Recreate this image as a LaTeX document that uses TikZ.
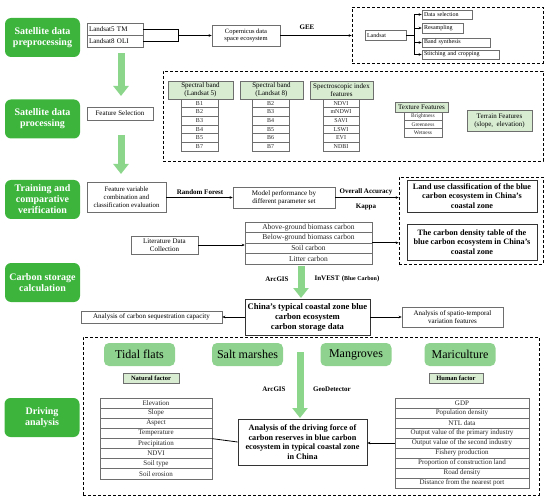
\documentclass[tikz,border=0pt]{standalone}
\usepackage{fontspec}
\setmainfont{Liberation Serif}
\usetikzlibrary{arrows.meta}
\definecolor{dgreen}{RGB}{61,181,61}
\definecolor{lgreen}{RGB}{140,214,140}
\definecolor{hgreen}{RGB}{216,236,210}
\definecolor{cgreen}{RGB}{143,210,143}
\definecolor{bgray}{RGB}{110,110,110}
\begin{document}
\begin{tikzpicture}[x=1pt,y=-1pt,
 lab/.style={rounded corners=6pt, fill=dgreen, text=white, font=\fontsize{10}{11}\selectfont\bfseries, align=center, minimum width=75pt, minimum height=39pt, inner sep=1pt},
 box/.style={draw=bgray, line width=0.6pt, fill=white, font=\fontsize{7}{8}\selectfont, align=center, inner sep=1pt},
 lbox/.style={box, align=left, inner xsep=2pt, font=\fontsize{6}{7}\selectfont},
 cell/.style={draw=bgray, line width=0.5pt, font=\fontsize{6}{7}\selectfont, inner sep=0pt, text=black!85},
 tcell/.style={cell, font=\fontsize{7}{8}\selectfont},
 hdr/.style={draw=bgray, line width=0.6pt, fill=hgreen, font=\fontsize{7}{8}\selectfont, align=center, inner sep=1pt},
 bbox/.style={draw=black!80, line width=0.8pt, fill=white, font=\fontsize{8.2}{9.6}\selectfont\bfseries, align=center, inner sep=1pt},
 cat/.style={rounded corners=5pt, fill=cgreen, font=\fontsize{12}{13}\selectfont, minimum width=71pt, minimum height=23pt, inner sep=1pt},
 dbox/.style={draw=black, line width=0.8pt, dash pattern=on 3pt off 2pt, inner sep=0pt},
 conn/.style={draw=black, line width=0.8pt},
 arr/.style={conn, -{Stealth[length=3pt,width=2.6pt]}},
 garr/.style={draw=lgreen, line width=7pt, -{Triangle[width=15pt,length=10pt]}},
 lbl/.style={font=\fontsize{7}{8}\selectfont\bfseries, inner sep=0pt}
]
\useasboundingbox (0,0) rectangle (550,503);

% left labels
\node[lab] (L1) at (42.5,37.5) {Satellite data\\preprocessing};
\node[lab] (L2) at (42.5,119) {Satellite data\\processing};
\node[lab] (L3) at (42.5,199.5) {Training and\\comparative\\verification};
\node[lab] (L4) at (42.5,282.5) {Carbon storage\\calculation};
\node[lab] (L5) at (42,417.5) {Driving\\analysis};

% row 1
\node[box, text width=52pt, align=left, inner xsep=2pt, minimum height=12pt] (l5) at (115,29) {Landsat5 TM};
\node[box, text width=52pt, align=left, inner xsep=2pt, minimum height=12pt] (l8) at (115,41) {Landsat8 OLI};
\node[box, minimum width=68pt, minimum height=21pt, font=\fontsize{6.5}{7.5}\selectfont] (cop) at (246,35.5) {Copernicus data\\space ecosystem};
\draw[conn] (l5.east) -- ++(35,0) coordinate (j1) |- (l8.east);
\draw[arr] (j1 |- cop.west) -- (cop.west);
\node[dbox, minimum width=191pt, minimum height=56pt] (D1) at (447.5,35) {};
\draw[arr] (cop.east) -- (cop.east -| D1.west);
\node[lbl] (gee) at (307,27) {GEE};
\node[lbox, text width=37pt, minimum height=10pt] (ls) at (385.5,35) {Landsat};
\node[lbox, text width=46pt, minimum height=9pt] (ds) at (447,14.5) {Data selection};
\node[lbox, text width=37pt, minimum height=10pt] (rs) at (442.5,28) {Resampling};
\node[lbox, text width=64pt, minimum height=9pt] (bs) at (456,42.5) {Band synthesis};
\node[lbox, text width=73pt, minimum height=9pt] (sc) at (460.5,54.5) {Stitching and cropping};
\foreach \b in {ds,rs,bs,sc} \draw[arr] (ls.east) -- ++(8,0) |- (\b.west);

% green arrow 1
\coordinate (g1a) at (121,53);
\coordinate (g1b) at (121,96);
\draw[garr] (g1a) -- (g1b);

% row 2
\node[box, minimum width=66pt, minimum height=13pt] (fs) at (120,113.5) {Feature Selection};
\coordinate (g2a) at (121,135);
\coordinate (g2b) at (121,174);
\draw[garr] (g2a) -- (g2b);
\node[dbox, minimum width=380pt, minimum height=90pt] (D2) at (353,116) {};
\node[hdr, minimum width=65pt, minimum height=18pt] (h1) at (200.5,90) {Spectral band\\(Landsat 5)};
\node[hdr, minimum width=63pt, minimum height=18pt] (h2) at (271.5,90) {Spectral band\\(Landsat 8)};
\node[hdr, minimum width=63pt, minimum height=18pt] (h3) at (341.5,90) {Spectroscopic index\\features};
\node[hdr, minimum width=53pt, minimum height=10pt] (h4) at (421.5,107) {Texture Features};
\node[hdr, minimum width=65pt, minimum height=21pt] (h5) at (499.5,120.5) {Terrain Features\\(slope,\ \ elevation)};
\foreach \t [count=\i] in {B1,B2,B3,B4,B5,B7}
  \node[cell, minimum width=37pt, minimum height=8.67pt] (pa\i) at (199.5,{99+8.67*\i-4.33}) {\t};
\foreach \t [count=\i] in {B2,B3,B4,B5,B6,B7}
  \node[cell, minimum width=37pt, minimum height=8.67pt] (pb\i) at (270.5,{99+8.67*\i-4.33}) {\t};
\foreach \t [count=\i] in {NDVI,mNDWI,SAVI,LSWI,EVI,NDBI}
  \node[cell, minimum width=36pt, minimum height=8.67pt] (pc\i) at (341,{99+8.67*\i-4.33}) {\t};
\foreach \t [count=\i] in {Brightness,Greenness,Wetness}
  \node[cell, minimum width=38pt, minimum height=8.33pt, font=\fontsize{5.5}{6}\selectfont] (pd\i) at (423,{112+8.33*\i-4.17}) {\t};

% row 3
\node[box, minimum width=79pt, minimum height=30pt, font=\fontsize{6.8}{7.8}\selectfont] (fv) at (126.5,197) {Feature variable\\combination and\\classification evaluation};
\node[box, minimum width=102pt, minimum height=21pt] (mp) at (284,197.5) {Model performance by\\different parameter set};
\draw[arr] (fv.east |- mp.west) -- (mp.west);
\node[lbl] (rf) at (200,192) {Random Forest};
\node[dbox, minimum width=144pt, minimum height=87pt] (D3) at (471,220.5) {};
\draw[arr] (mp.east) -- (mp.east -| D3.west);
\node[lbl] (oa) at (366,192) {Overall Accuracy};
\node[lbl] (kp) at (366,207) {Kappa};
\node[bbox, minimum width=130pt, minimum height=32pt] (lu) at (472,196) {Land use classification of the blue\\carbon ecosystem in China's\\coastal zone};
\node[bbox, minimum width=130pt, minimum height=36pt] (cd) at (472,242) {The carbon density table of the\\blue carbon ecosystem in China's\\coastal zone};
\node[box, minimum width=67pt, minimum height=18pt] (lit) at (164.5,245) {Literature Data\\Collection};
\foreach \t [count=\i] in {Above-ground biomass carbon,Below-ground biomass carbon,Soil carbon,Litter carbon}
  \node[tcell, minimum width=127pt, minimum height=10.5pt, font=\fontsize{7.5}{8.5}\selectfont] (cc\i) at (308.5,{222+10.5*\i-5.25}) {\t};
\draw[arr] (lit.east) -- (lit.east -| cc2.west);
\draw[arr] (cc3.north east) -- (cc3.north east -| D3.west);

% row 4
\coordinate (g3a) at (301,266);
\coordinate (g3b) at (301,298);
\draw[garr] (g3a) -- (g3b);
\node[lbl] (ag1) at (277,279) {ArcGIS};
\node[lbl] (inv) at (347,279) {InVEST\,\,({\fontsize{6}{7}\selectfont Blue Carbon})};
\node[bbox, minimum width=125pt, minimum height=36pt, font=\fontsize{8.6}{10}\selectfont\bfseries] (cn) at (307.5,317) {China's typical coastal zone blue\\carbon ecosystem\\carbon storage data};
\node[box, minimum width=141pt, minimum height=12pt] (cs) at (151.5,317) {Analysis of carbon sequestration capacity};
\node[box, minimum width=101pt, minimum height=20pt] (sp) at (452.5,317) {Analysis of spatio-temporal\\variation features};
\draw[arr] (cn.west) -- (cs.east);
\draw[arr] (cn.east) -- (sp.west);

% row 5
\node[dbox, minimum width=456pt, minimum height=158pt] (D4) at (311,416) {};
\node[cat] (tf) at (139.5,354.5) {Tidal flats};
\node[cat] (sm) at (247.5,354.5) {Salt marshes};
\node[cat] (mg) at (356,354.5) {Mangroves};
\node[cat] (mc) at (460,354.5) {Mariculture};
\node[hdr, minimum width=56pt, minimum height=10pt, font=\fontsize{6.5}{7}\selectfont\bfseries] (nf) at (151,378) {Natural factor};
\node[hdr, minimum width=54pt, minimum height=10pt, font=\fontsize{6.5}{7}\selectfont\bfseries] (hf) at (456,378.5) {Human factor};
\node[lbl] (ag2) at (274,389) {ArcGIS};
\node[lbl] (gd) at (332,389) {GeoDetector};
\coordinate (g4a) at (300,352);
\coordinate (g4b) at (300,418);
\draw[garr] (g4a) -- (g4b);
\foreach \t [count=\i] in {Elevation,Slope,Aspect,Temperature,Precipitation,NDVI,Soil type,Soil erosion}
  \node[tcell, minimum width=112pt, minimum height=10.1pt] (nl\i) at (156,{398+10.1*\i-5.05}) {\t};
\foreach \t [count=\i] in {GDP,Population density,NTL data,Output value of the primary industry,Output value of the second industry,Fishery production,Proportion of construction land,Road density,Distance from the nearest port}
  \node[tcell, minimum width=134pt, minimum height=10pt] (hl\i) at (462,{398+10*\i-5}) {\t};
\node[bbox, minimum width=129pt, minimum height=46pt] (dr) at (302.5,442) {Analysis of the driving force of\\carbon reserves in blue carbon\\ecosystem in typical coastal zone\\in China};
\draw[conn] (nl4.south east) -- (dr.west);
\draw[arr] (hl5.west) -- (hl5.west -| dr.east);
\end{tikzpicture}
\end{document}
